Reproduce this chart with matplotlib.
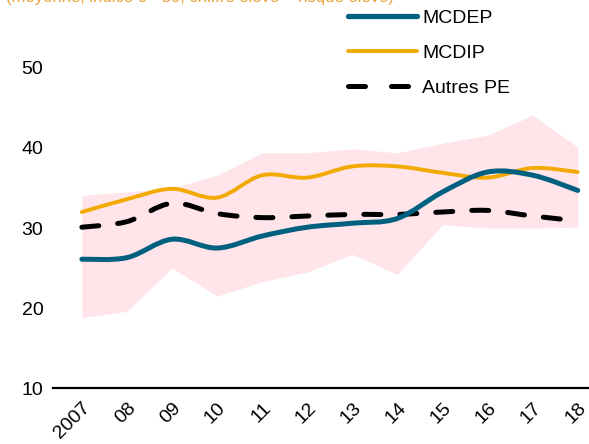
import matplotlib.pyplot as plt
import numpy as np
from matplotlib.path import Path
from matplotlib.patches import PathPatch
from matplotlib.lines import Line2D

plt.rcParams['font.family'] = ['Liberation Sans', 'DejaVu Sans']

years = np.arange(2007, 2019)
year_labels = ["2007", "08", "09", "10", "11", "12", "13", "14", "15", "16", "17", "18"]

mcdep = [26.1, 26.3, 28.6, 27.5, 29.0, 30.1, 30.6, 31.2, 34.5, 37.0, 36.6, 34.7]
mcdip = [32.0, 33.6, 34.9, 33.8, 36.6, 36.3, 37.7, 37.7, 36.9, 36.3, 37.5, 37.0]
autres = [30.1, 30.8, 33.1, 31.8, 31.3, 31.5, 31.7, 31.7, 32.0, 32.2, 31.5, 30.9]
band_high = [34.1, 34.5, 35.0, 36.6, 39.4, 39.4, 39.9, 39.4, 40.6, 41.6, 44.1, 40.1]
band_low = [18.8, 19.6, 25.0, 21.5, 23.3, 24.5, 26.7, 24.2, 30.4, 30.0, 30.0, 30.1]


def smooth_path(x, y, t=0.5):
    # Catmull-Rom style curve as cubic bezier segments through the data
    x = np.asarray(x, float)
    y = np.asarray(y, float)
    verts = [(x[0], y[0])]
    codes = [Path.MOVETO]
    n = len(x)
    for i in range(n - 1):
        p0 = (x[max(i - 1, 0)], y[max(i - 1, 0)])
        p1 = (x[i], y[i])
        p2 = (x[i + 1], y[i + 1])
        p3 = (x[min(i + 2, n - 1)], y[min(i + 2, n - 1)])
        c1 = (p1[0] + (p2[0] - p0[0]) * t / 3, p1[1] + (p2[1] - p0[1]) * t / 3)
        c2 = (p2[0] - (p3[0] - p1[0]) * t / 3, p2[1] - (p3[1] - p1[1]) * t / 3)
        verts += [c1, c2, p2]
        codes += [Path.CURVE4] * 3
    return Path(verts, codes)


fig = plt.figure(figsize=(5.89, 4.44), dpi=100)
ax = fig.add_axes([0.09, 0.126, 0.91, 0.811])

ax.fill_between(years, band_low, band_high, color="#FFE4EA", lw=0)

blue = "#00607F"
yellow = "#F2A900"

ax.add_patch(PathPatch(smooth_path(years, mcdip), fill=False, ec=yellow,
                       lw=2.8, capstyle="round"))
ax.add_patch(PathPatch(smooth_path(years, autres), fill=False, ec="black",
                       lw=3.6, ls=(0, (3.4, 3.8)), capstyle="round"))
ax.add_patch(PathPatch(smooth_path(years, mcdep), fill=False, ec=blue,
                       lw=3.6, capstyle="round"))

ax.set_xlim(2006.36, 2018.25)
ax.set_ylim(10, 55)
ax.set_yticks([10, 20, 30, 40, 50])
ax.set_xticks(years)
ax.set_xticklabels(year_labels, rotation=45, ha="right", rotation_mode="anchor")
ax.tick_params(axis="both", length=0, labelsize=14)
ax.tick_params(axis="y", pad=7)
ax.tick_params(axis="x", pad=8)

for s in ["top", "right", "left"]:
    ax.spines[s].set_visible(False)
ax.spines["bottom"].set_linewidth(1.6)

handles = [
    Line2D([], [], color=blue, lw=3.8, solid_capstyle="round"),
    Line2D([], [], color=yellow, lw=2.8, solid_capstyle="round"),
    Line2D([], [], color="black", lw=3.6, ls=(0, (3.4, 5.2)), dash_capstyle="round"),
]
fig.legend(handles, ["MCDEP", "MCDIP", "Autres PE"], loc="upper left",
           bbox_to_anchor=(0.591, 0.979), frameon=False, fontsize=14,
           borderpad=0, borderaxespad=0,
           handlelength=3.55, handletextpad=0.25, labelspacing=0.9)

fig.text(0.01, 1.005, "(moyenne, indice 0 - 50, chiffre élevé = risque élevé)",
         color="#E8A33D", fontsize=12, va="center", ha="left")

fig.savefig("out.png", dpi=100)
